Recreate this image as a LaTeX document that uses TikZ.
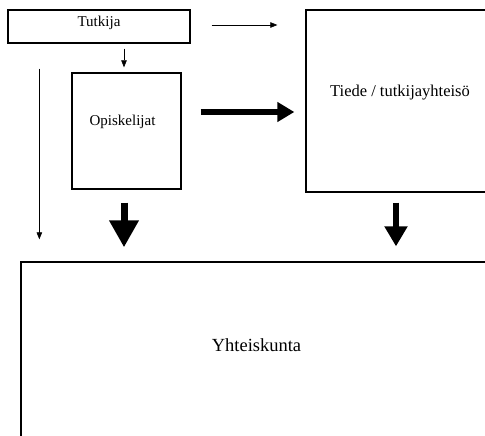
\documentclass[tikz,border=0pt]{standalone}
\usepackage{fontspec}
\setmainfont{Liberation Serif}
\usepackage{tikz}
\usetikzlibrary{arrows.meta}

\tikzset{
  box/.style={draw, line width=1.3pt, inner sep=0pt, rectangle},
  thinarrow/.style={line width=0.6pt, -{Triangle[length=7pt,width=5.5pt]}},
  thickarrow/.style={line width=5pt, -{Triangle[length=17pt,width=19pt]}},
}

\begin{document}
\begin{tikzpicture}[x=1pt,y=1pt,yscale=-1,xscale=1]
\useasboundingbox (0,0) rectangle (485,436);
\clip (0,0) rectangle (485,436);

%Shape: Rectangle [Tutkija]
\node[box, minimum width=182pt, minimum height=33pt,
  label={[yshift=4pt, font=\fontsize{15}{17}\selectfont]center:Tutkija}] (tutkija) at (99,26.5) {};
%Shape: Rectangle [Opiskelijat]
\node[box, minimum width=109pt, minimum height=116pt,
  label={[xshift=-4pt, yshift=9pt, font=\fontsize{15}{18}\selectfont]center:Opiskelijat}] (opiskelijat) at (126.5,131) {};
%Shape: Rectangle [Tiede]
\node[box, minimum width=188pt, minimum height=182pt,
  label={[yshift=8pt, font=\fontsize{16.5}{19}\selectfont]center:Tiede / tutkijayhteisö}] (tiede) at (400,101) {};
%Shape: Rectangle [Yhteiskunta]
\node[box, minimum width=471pt, minimum height=188pt,
  label={[yshift=11pt, font=\fontsize{18.5}{22}\selectfont]center:Yhteiskunta}] (yhteiskunta) at (256.5,356) {};

%Straight Lines [thin]
\draw[thinarrow, shorten <=21pt, shorten >=28pt] ([yshift=-1.5pt]tutkija.east) -- ([yshift=-1.5pt]tutkija.east -| tiede.west);
\draw[thinarrow, shorten <=5pt, shorten >=5pt] ([xshift=-2.5pt]opiskelijat.north |- tutkija.south) -- ([xshift=-2.5pt]opiskelijat.north);
\draw[thinarrow, shorten <=25pt, shorten >=22pt] ([xshift=32pt]tutkija.south west) -- ([xshift=19pt]yhteiskunta.north west);

%Straight Lines [thick]
\draw[thickarrow, shorten <=19pt, shorten >=11pt] ([yshift=-19pt]opiskelijat.east) -- ([yshift=-19pt]opiskelijat.east -| tiede.west);
\draw[thickarrow, line width=7pt, -{Triangle[length=27pt,width=28pt]}, shorten <=13pt, shorten >=14pt] ([xshift=-2.5pt]opiskelijat.south) -- ([xshift=-2.5pt]opiskelijat.south |- yhteiskunta.north);
\draw[thickarrow, line width=6pt, -{Triangle[length=20pt,width=22pt]}, shorten <=10pt, shorten >=15pt] ([xshift=-4pt]tiede.south) -- ([xshift=-4pt]tiede.south |- yhteiskunta.north);

\end{tikzpicture}
\end{document}
